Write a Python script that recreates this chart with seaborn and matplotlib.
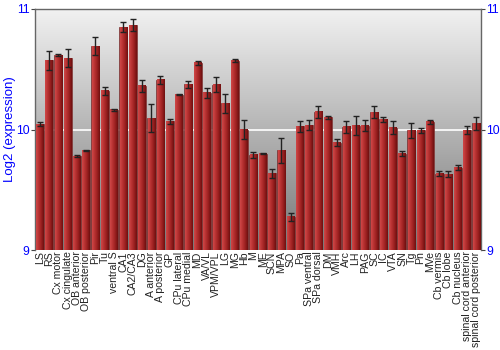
import numpy as np
import pandas as pd
import matplotlib
matplotlib.use("Agg")
import matplotlib.pyplot as plt
import seaborn as sns
from matplotlib.colors import LinearSegmentedColormap

regions = ["LS", "RS", "Cx motor", "Cx cingulate", "OB anterior", "OB posterior", "Pir", "Tu",
           "ventral S", "CA1", "CA2/CA3", "DG", "A anterior", "A posterior", "GP", "CPu lateral",
           "CPu medial", "MD", "VA/VL", "VPM/VPL", "LG", "MG", "Hb", "M", "ME", "SCN", "MPA", "SO",
           "Pa", "SPa ventral", "SPa dorsal", "DM", "VMH", "Arc", "LH", "PAG", "SC", "IC", "VTA",
           "SN", "Tg", "Pn", "MVe", "Cb vermis", "Cb lobe", "Cb nucleus", "spinal cord anterior",
           "spinal cord posterior"]
expression = [10.044, 10.574, 10.618, 10.59, 9.779, 9.829, 10.692, 10.323,
              10.163, 10.85, 10.866, 10.361, 10.094, 10.414, 10.069, 10.29,
              10.375, 10.552, 10.303, 10.372, 10.218, 10.571, 9.997, 9.79, 9.80, 9.636, 9.826, 9.274,
              10.025, 10.036, 10.146, 10.10, 9.892, 10.022, 10.033, 10.033, 10.143, 10.083, 10.014,
              9.80, 9.992, 9.992, 10.063, 9.633, 9.628, 9.683, 9.992, 10.05]
error = [0.017, 0.08, 0.005, 0.075, 0.01, 0.004, 0.072, 0.033,
         0.008, 0.045, 0.05, 0.05, 0.115, 0.033, 0.022, 0.005,
         0.028, 0.015, 0.038, 0.06, 0.08, 0.011, 0.078, 0.023, 0.004, 0.035, 0.106, 0.033,
         0.048, 0.039, 0.051, 0.015, 0.03, 0.05, 0.077, 0.048, 0.048, 0.019, 0.055,
         0.02, 0.06, 0.019, 0.014, 0.02, 0.025, 0.019, 0.033, 0.057]
y_ticks = [9, 10, 11]

df = pd.DataFrame({"region": regions, "expression": expression, "error": error})

sns.set_style("white")
plt.rcParams["font.family"] = ["Liberation Sans", "DejaVu Sans"]
fig = plt.figure(figsize=(5, 3.5), dpi=100)
ax = fig.add_axes([0.07, 0.2857, 0.892, 0.6886])

ymin, ymax = 9, 11
sns.barplot(data=df, x="region", y="expression", ax=ax, color="#a82828",
            width=0.86, errorbar=None, edgecolor="#7a3030", linewidth=0.5, zorder=3)
ax.set_ylim(ymin, ymax)
ax.set_xlim(-0.5, len(regions) - 0.5)

# background gradient
bg = LinearSegmentedColormap.from_list("bg", ["#777777", "#f2f2f2"])
grad = np.linspace(0, 1, 256).reshape(-1, 1)
ax.imshow(grad, cmap=bg, aspect="auto", origin="lower",
          extent=[-0.5, len(regions) - 0.5, ymin, ymax], zorder=0)
ax.axhline(10, color="white", lw=1.2, zorder=1)

# bar gradient (drawn over each bar patch, within the axes)
barcm = LinearSegmentedColormap.from_list("bar", ["#d04848", "#b83232", "#9a2020", "#6e1010"])
hgrad = np.linspace(0, 1, 64).reshape(1, -1)
for p in list(ax.patches):
    x0, y0 = p.get_x(), p.get_y()
    w, h = p.get_width(), p.get_height()
    lo = max(y0, ymin)
    hi = y0 + h
    ax.imshow(hgrad, cmap=barcm, aspect="auto", extent=[x0 + 0.04, x0 + w - 0.04, lo, hi],
              zorder=3.5, interpolation="bilinear")

ax.errorbar(x=np.arange(len(regions)), y=df["expression"], yerr=df["error"], fmt="none",
            ecolor="#222222", elinewidth=1, capsize=2.5, capthick=1, zorder=5)

ax.set_ylim(ymin, ymax)
ax.set_xlim(-0.5, len(regions) - 0.5)
ax.set_yticks(y_ticks)
ax.set_yticklabels([str(t) for t in y_ticks])
ax.tick_params(axis="y", colors="#444444", labelcolor="blue", labelsize=8.8, length=3,
               left=True, right=True, labelright=True, direction="out", pad=1)
ax.set_xticks(np.arange(len(regions)))
ax.set_xticklabels(regions, rotation=90, fontsize=7.6, color="#222222")
ax.tick_params(axis="x", length=0, pad=1)
ax.set_xlabel("")
ax.set_ylabel("Log2 (expression)", color="blue", fontsize=9.5)
ax.yaxis.set_label_coords(-0.043, 0.5)
for s in ["top", "left", "right"]:
    ax.spines[s].set_color("#666666")
    ax.spines[s].set_linewidth(1)
ax.spines["bottom"].set_visible(False)

fig.savefig("out.png", dpi=100)
